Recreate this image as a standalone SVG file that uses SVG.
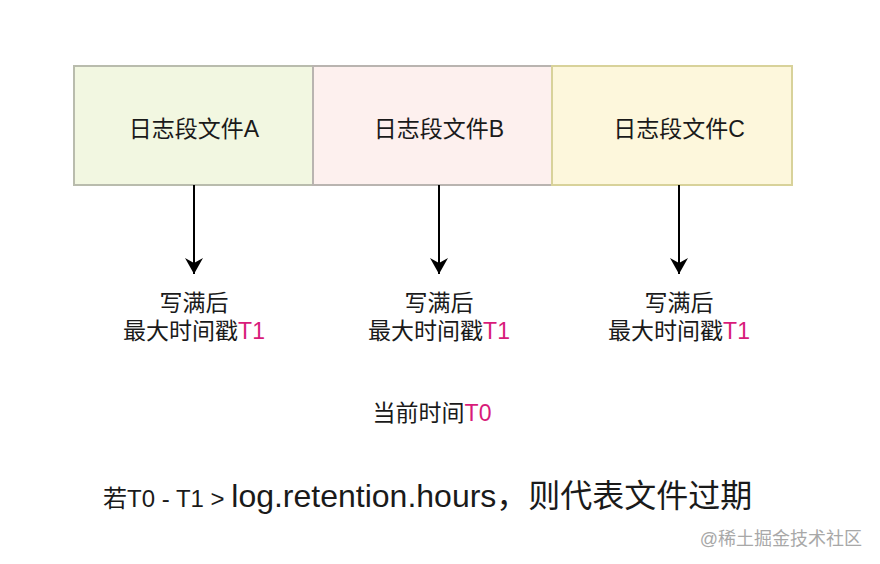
<svg xmlns="http://www.w3.org/2000/svg" width="880" height="564" viewBox="0 0 880 564">
<style>
text{font-family:"Liberation Sans","Noto Sans CJK SC",sans-serif;fill:#1a1a1a}
.c{text-anchor:middle;font-size:23px}
.m{fill:#d81b7a}
.box{stroke-width:2}
</style>
<defs>
<marker id="ah" viewBox="0 0 16 18" refX="16" refY="9" markerWidth="16" markerHeight="18" markerUnits="userSpaceOnUse" orient="auto">
<path d="M0,0 L16,9 L0,18 L5,9 Z" fill="#000"/>
</marker>
</defs>
<rect width="880" height="564" fill="#fff"/>
<g id="nodeA"><rect class="box" x="74" y="66" width="239" height="119" fill="#f2f7e1" stroke="#b9bcad"/><text class="c" x="194" y="137">日志段文件A</text></g>
<g id="nodeB"><rect class="box" x="313" y="66" width="239" height="119" fill="#fdf0ee" stroke="#b9b4b0"/><text class="c" x="439" y="137">日志段文件B</text></g>
<g id="nodeC"><rect class="box" x="552" y="66" width="240" height="119" fill="#fdf7dc" stroke="#d8d29a"/><text class="c" x="679" y="137">日志段文件C</text></g>
<g id="connectors" stroke="#000" stroke-width="2" fill="none">
<line x1="194" y1="185" x2="194" y2="274" marker-end="url(#ah)"/>
<line x1="439" y1="185" x2="439" y2="274" marker-end="url(#ah)"/>
<line x1="679" y1="185" x2="679" y2="274" marker-end="url(#ah)"/>
</g>
<g id="labelA"><text class="c" x="194" y="311">写满后</text><text class="c" x="194" y="339">最大时间戳<tspan class="m">T1</tspan></text></g>
<g id="labelB"><text class="c" x="439" y="311">写满后</text><text class="c" x="439" y="339">最大时间戳<tspan class="m">T1</tspan></text></g>
<g id="labelC"><text class="c" x="679" y="311">写满后</text><text class="c" x="679" y="339">最大时间戳<tspan class="m">T1</tspan></text></g>
<g id="now"><text class="c" x="432" y="421">当前时间<tspan class="m">T0</tspan></text></g>
<g id="rule"><text x="103" y="507" font-size="24">若T0 - T1 &gt; <tspan font-size="32">log.retention.hours，则代表文件过期</tspan></text></g>
<text x="862" y="545" font-size="18" text-anchor="end" style="fill:#a8a8a8">@稀土掘金技术社区</text>
</svg>
